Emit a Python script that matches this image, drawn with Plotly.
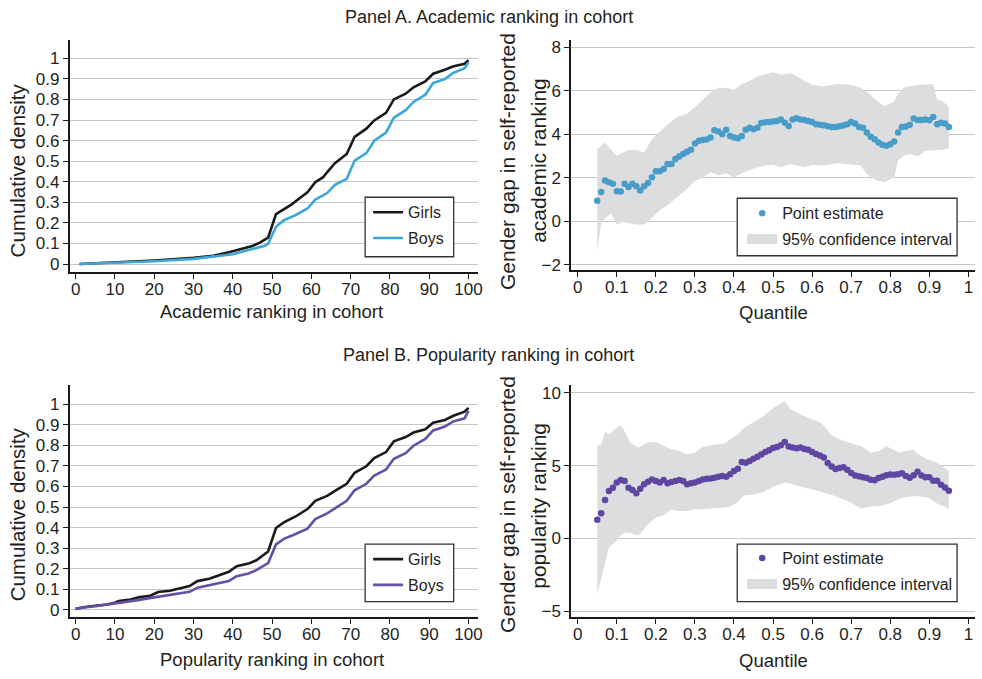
import plotly.graph_objects as go

# ---------------- Data ----------------
# Cumulative densities, academic ranking in cohort
acad_girls_x = [1, 10, 20, 30, 35, 39, 42, 45, 47, 49, 51, 53, 55, 57, 59, 61, 63, 64, 66, 69,
                71, 74, 76, 79, 81, 84, 86, 89, 91, 94, 96, 99, 100]
acad_girls_y = [0.0, 0.008, 0.017, 0.03, 0.04, 0.057, 0.072, 0.088, 0.105, 0.128, 0.243, 0.266,
                0.29, 0.32, 0.349, 0.398, 0.422, 0.446, 0.49, 0.535, 0.618, 0.658, 0.698, 0.735,
                0.80, 0.828, 0.859, 0.888, 0.925, 0.944, 0.96, 0.973, 0.99]
acad_boys_x = [1, 10, 20, 30, 40, 44, 48, 49, 51, 53, 56, 59, 61, 64, 66, 69, 71, 74, 76, 79,
               81, 84, 86, 89, 91, 94, 96, 99, 100]
acad_boys_y = [0.0, 0.006, 0.014, 0.025, 0.048, 0.068, 0.088, 0.098, 0.181, 0.213, 0.238, 0.27,
               0.313, 0.345, 0.385, 0.414, 0.502, 0.539, 0.599, 0.639, 0.711, 0.748, 0.788, 0.823,
               0.88, 0.899, 0.928, 0.952, 0.98]

# Cumulative densities, popularity ranking in cohort
pop_girls_x = [0, 2, 5, 8, 10, 11, 14, 16, 19, 21, 24, 26, 29, 31, 34, 36, 39, 41, 44, 46, 47,
               49, 51, 53, 56, 58, 59, 61, 64, 66, 69, 71, 74, 76, 79, 81, 84, 86, 89, 91, 94,
               96, 99, 100]
pop_girls_y = [0.005, 0.013, 0.02, 0.026, 0.035, 0.043, 0.051, 0.061, 0.069, 0.087, 0.093, 0.103,
               0.116, 0.14, 0.151, 0.165, 0.185, 0.212, 0.225, 0.241, 0.254, 0.284, 0.398, 0.425,
               0.454, 0.478, 0.49, 0.53, 0.554, 0.578, 0.613, 0.666, 0.698, 0.738, 0.767, 0.819,
               0.84, 0.862, 0.878, 0.91, 0.923, 0.942, 0.963, 0.982]
pop_boys_x = [0, 2, 5, 10, 15, 20, 25, 29, 31, 34, 39, 41, 44, 46, 49, 51, 53, 56, 59, 61, 64,
              66, 69, 71, 74, 76, 79, 81, 84, 86, 89, 91, 94, 96, 99, 100]
pop_boys_y = [0.005, 0.012, 0.018, 0.03, 0.045, 0.061, 0.075, 0.088, 0.108, 0.12, 0.141, 0.164,
              0.177, 0.193, 0.228, 0.318, 0.345, 0.369, 0.395, 0.441, 0.469, 0.493, 0.53, 0.581,
              0.613, 0.653, 0.682, 0.734, 0.762, 0.798, 0.831, 0.872, 0.891, 0.915, 0.931, 0.968]

# Quantile regression estimates, quantiles 0.05 ... 0.95
quantiles = [round(0.05 + 0.01 * i, 2) for i in range(91)]
acad_gap = [0.94, 1.34, 1.87, 1.79, 1.72, 1.38, 1.37, 1.72, 1.57, 1.72,
            1.61, 1.41, 1.61, 1.75, 2.02, 2.30, 2.30, 2.40, 2.63, 2.63,
            2.86, 2.97, 3.09, 3.19, 3.29, 3.57, 3.70, 3.73, 3.76, 3.85,
            4.18, 4.12, 4.00, 4.21, 3.92, 3.85, 3.82, 3.92, 4.20, 4.30,
            4.23, 4.30, 4.52, 4.55, 4.56, 4.58, 4.61, 4.68, 4.53, 4.38,
            4.68, 4.73, 4.68, 4.65, 4.61, 4.56, 4.46, 4.43, 4.41, 4.37,
            4.33, 4.33, 4.37, 4.40, 4.46, 4.56, 4.49, 4.33, 4.30, 4.08,
            3.88, 3.77, 3.62, 3.51, 3.47, 3.54, 3.67, 4.08, 4.33, 4.35,
            4.43, 4.72, 4.65, 4.65, 4.68, 4.64, 4.79, 4.46, 4.53, 4.49,
            4.33]
pop_gap = [1.28, 1.74, 2.65, 3.26, 3.49, 3.84, 4.02, 3.95, 3.49, 3.33,
           3.11, 3.42, 3.72, 3.90, 4.06, 3.95, 3.84, 4.02, 3.79, 3.88,
           3.95, 4.02, 3.95, 3.72, 3.79, 3.84, 3.95, 4.06, 4.11, 4.13,
           4.18, 4.25, 4.29, 4.25, 4.41, 4.63, 4.79, 5.25, 5.21, 5.32,
           5.48, 5.62, 5.78, 5.94, 6.07, 6.21, 6.28, 6.40, 6.63, 6.33,
           6.26, 6.20, 6.26, 6.15, 6.10, 5.94, 5.80, 5.71, 5.57, 5.18,
           4.95, 4.77, 4.84, 4.89, 4.72, 4.50, 4.33, 4.27, 4.20, 4.15,
           4.04, 4.00, 4.15, 4.25, 4.35, 4.40, 4.38, 4.42, 4.48, 4.30,
           4.18, 4.35, 4.58, 4.33, 4.20, 4.20, 3.97, 3.97, 3.69, 3.51,
           3.28]

# 95% confidence bands
acad_band_q = [0.05, 0.06, 0.07, 0.085, 0.10, 0.115, 0.13, 0.15, 0.17, 0.19, 0.21, 0.23, 0.255,
               0.28, 0.30, 0.32, 0.34, 0.36, 0.38, 0.40, 0.42, 0.44, 0.46, 0.48, 0.50, 0.52,
               0.545, 0.56, 0.58, 0.60, 0.63, 0.665, 0.70, 0.725, 0.74, 0.765, 0.785, 0.81,
               0.82, 0.835, 0.85, 0.87, 0.89, 0.91, 0.92, 0.935, 0.95]
acad_upper = [3.32, 3.47, 3.62, 3.30, 3.01, 3.15, 3.27, 3.27, 3.16, 3.77, 4.10, 4.45, 4.79,
              4.94, 5.25, 5.60, 5.92, 6.15, 6.13, 6.05, 6.30, 6.45, 6.66, 6.75, 6.85, 6.74,
              6.81, 6.68, 6.45, 6.28, 6.21, 6.31, 6.28, 6.13, 5.95, 5.55, 5.29, 5.52, 5.85,
              6.15, 6.21, 6.26, 6.29, 6.31, 5.60, 5.52, 5.22]
acad_lower = [-1.40, -0.11, 0.12, 0.35, -0.15, -0.03, -0.10, -0.15, -0.15, 0.15, 0.50, 0.73,
              1.11, 1.49, 1.85, 2.00, 2.25, 2.10, 2.20, 2.02, 2.20, 2.35, 2.45, 2.56, 2.60,
              2.48, 2.63, 2.55, 2.48, 2.60, 2.56, 2.66, 2.60, 2.56, 2.17, 1.87, 1.79, 2.02,
              2.78, 3.01, 3.09, 2.97, 3.24, 3.24, 3.25, 3.27, 3.36]

pop_band_q = [0.05, 0.06, 0.07, 0.08, 0.095, 0.11, 0.12, 0.135, 0.155, 0.18, 0.20, 0.22, 0.24,
              0.255, 0.28, 0.30, 0.32, 0.35, 0.375, 0.39, 0.41, 0.425, 0.45, 0.475, 0.50, 0.53,
              0.545, 0.58, 0.60, 0.625, 0.65, 0.68, 0.70, 0.725, 0.75, 0.775, 0.79, 0.80,
              0.825, 0.835, 0.86, 0.87, 0.895, 0.90, 0.92, 0.93, 0.95]
pop_upper = [6.35, 6.46, 7.31, 7.15, 7.49, 7.76, 7.37, 6.60, 6.23, 6.62, 6.62, 6.35, 6.12,
             6.07, 5.78, 5.89, 6.30, 6.46, 6.53, 6.80, 7.15, 7.60, 7.99, 8.40, 8.97, 9.43,
             8.86, 8.40, 8.20, 7.90, 7.10, 6.70, 6.55, 6.35, 5.89, 6.05, 6.35, 6.20, 5.89,
             6.00, 6.12, 5.80, 5.43, 5.40, 5.21, 5.00, 4.63]
pop_lower = [-3.81, -2.70, -1.70, -0.62, -0.30, 0.20, 0.41, 0.37, 0.18, 0.98, 1.44, 1.60,
             2.01, 1.89, 1.89, 2.01, 2.01, 2.05, 2.12, 2.19, 2.50, 2.95, 3.04, 3.20, 3.56,
             3.84, 3.75, 3.50, 3.38, 3.20, 3.00, 2.70, 2.47, 2.05, 2.19, 2.24, 2.35, 2.42,
             2.75, 2.81, 2.92, 2.90, 2.81, 2.75, 2.40, 2.28, 2.05]

# ---------------- Styling ----------------
W, H = 982, 679
FONT = "Liberation Sans, Arial, Helvetica, sans-serif"
TXT = "#231f20"
GIRLS = "#1a1a1a"
BOYS_A = "#3ba7d6"
BOYS_P = "#6650a4"
DOTS_A = "#4a9cc8"
DOTS_P = "#5f46a2"
BAND = "#dcdddf"
GRID = "#c6c6c6"


def px_x(p):
    return p / W


def px_y(p):
    return (H - p) / H


fig = go.Figure()

# Left panels: cumulative density lines
for ax, leg, gx, gy, bx, by, bcol in [
    ("", "legend", acad_girls_x, acad_girls_y, acad_boys_x, acad_boys_y, BOYS_A),
    ("3", "legend3", pop_girls_x, pop_girls_y, pop_boys_x, pop_boys_y, BOYS_P),
]:
    fig.add_trace(go.Scatter(x=gx, y=gy, mode="lines", name="Girls",
                             line=dict(color=GIRLS, width=2.6), legendgroup="g" + leg,
                             xaxis="x" + ax, yaxis="y" + ax, legend=leg))
    fig.add_trace(go.Scatter(x=bx, y=by, mode="lines", name="Boys",
                             line=dict(color=bcol, width=2.6), legendgroup="b" + leg,
                             xaxis="x" + ax, yaxis="y" + ax, legend=leg))

# Right panels: confidence band and point estimates
for ax, leg, bq, up, lo, est, col in [
    ("2", "legend2", acad_band_q, acad_upper, acad_lower, acad_gap, DOTS_A),
    ("4", "legend4", pop_band_q, pop_upper, pop_lower, pop_gap, DOTS_P),
]:
    fig.add_trace(go.Scatter(x=bq + bq[::-1], y=up + lo[::-1], mode="lines",
                             fill="toself", fillcolor=BAND, line=dict(width=0, color=BAND),
                             showlegend=False, hoverinfo="skip",
                             xaxis="x" + ax, yaxis="y" + ax))
    fig.add_trace(go.Scatter(x=quantiles, y=est, mode="markers", name="Point estimate",
                             marker=dict(color=col, size=6.5, line=dict(width=0)),
                             legendrank=1, legendgroup="p" + leg,
                             xaxis="x" + ax, yaxis="y" + ax, legend=leg))
    # legend key for the shaded band (a wide swatch)
    fig.add_trace(go.Scatter(x=[None], y=[None], mode="lines",
                             line=dict(width=16, color=BAND),
                             name="95% confidence interval", legendrank=2,
                             legendgroup="c" + leg,
                             xaxis="x" + ax, yaxis="y" + ax, legend=leg))

axis_common = dict(
    showline=True, linecolor="#1a1a1a", linewidth=1.6, mirror=False,
    ticks="outside", ticklen=5, tickwidth=1.3, tickcolor="#1a1a1a",
    tickfont=dict(family=FONT, size=17, color=TXT), zeroline=False,
)

# Pixel frames of the four plotting areas
left_x = (70, 480)
right_x = (574, 980)
top_y = (38.3, 272.7)
bot_y = (386.7, 620.5)

dec_labels = ["0"] + [f"{i / 10:.1f}" for i in range(1, 10)] + ["1"]
dec_vals = [i / 10 for i in range(11)]

lay = dict(
    width=W, height=H, margin=dict(l=0, r=0, t=0, b=0),
    paper_bgcolor="white", plot_bgcolor="white",
    font=dict(family=FONT, color=TXT),
)

lay["xaxis"] = dict(axis_common, domain=[px_x(left_x[0]), px_x(left_x[1])],
                    range=[-1.52, 102.3], tickvals=list(range(0, 101, 10)),
                    ticklabelstandoff=-4, showgrid=False, anchor="y")
lay["yaxis"] = dict(axis_common, domain=[px_y(top_y[1]), px_y(top_y[0])],
                    range=[-0.04, 1.089], tickvals=dec_vals, ticktext=dec_labels,
                    showgrid=True, gridcolor=GRID, gridwidth=1.4, anchor="x")
lay["xaxis2"] = dict(axis_common, domain=[px_x(right_x[0]), px_x(right_x[1])],
                     range=[-0.017, 1.017], tickvals=dec_vals, ticktext=dec_labels,
                     ticklabelstandoff=-4, showgrid=False, anchor="y2")
lay["yaxis2"] = dict(axis_common, domain=[px_y(top_y[1]) + 0.003, px_y(top_y[0])],
                     range=[-2.26, 8.337], tickvals=[-2, 0, 2, 4, 6, 8],
                     showgrid=True, gridcolor=GRID, gridwidth=1.4, anchor="x2")
lay["xaxis3"] = dict(axis_common, domain=[px_x(left_x[0]), px_x(left_x[1])],
                     range=[-1.52, 102.3], tickvals=list(range(0, 101, 10)),
                     ticklabelstandoff=-4, showgrid=False, anchor="y3")
lay["yaxis3"] = dict(axis_common, domain=[px_y(bot_y[1]), px_y(bot_y[0])],
                     range=[-0.0345, 1.0915], tickvals=dec_vals, ticktext=dec_labels,
                     showgrid=True, gridcolor=GRID, gridwidth=1.4, anchor="x3")
lay["xaxis4"] = dict(axis_common, domain=[px_x(right_x[0]), px_x(right_x[1])],
                     range=[-0.017, 1.017], tickvals=dec_vals, ticktext=dec_labels,
                     ticklabelstandoff=-4, showgrid=False, anchor="y4")
lay["yaxis4"] = dict(axis_common, domain=[px_y(bot_y[1]), px_y(bot_y[0])],
                     range=[-5.4, 10.53], tickvals=[-5, 0, 5, 10],
                     showgrid=True, gridcolor=GRID, gridwidth=1.4, anchor="x4")

# Legends: entries from plotly, framed by a white box drawn as a shape
legend_common = dict(
    bgcolor="rgba(0,0,0,0)", borderwidth=0,
    font=dict(family=FONT, size=16, color=TXT),
    xanchor="left", yanchor="top", traceorder="grouped", tracegroupgap=2,
    itemclick=False, itemdoubleclick=False,
)
lay["legend"] = dict(legend_common, x=px_x(370), y=px_y(195))
lay["legend2"] = dict(legend_common, x=px_x(746), y=px_y(196))
lay["legend3"] = dict(legend_common, x=px_x(370), y=px_y(545))
lay["legend4"] = dict(legend_common, x=px_x(746), y=px_y(544))

boxes = [(367, 197, 456, 257), (741, 198, 962, 256), (367, 547, 456, 605), (741, 547, 962, 605)]
lay["shapes"] = [
    dict(type="rect", xref="paper", yref="paper", layer="above",
         x0=px_x(x0), x1=px_x(x1), y0=px_y(y1), y1=px_y(y0),
         fillcolor="white", line=dict(color="#333333", width=1.3))
    for x0, y0, x1, y1 in boxes
]

fig.update_layout(**lay)


def label(text, x, y, size, angle=0):
    fig.add_annotation(text=text, x=px_x(x), y=px_y(y), xref="paper", yref="paper",
                       showarrow=False, textangle=angle, xanchor="center", yanchor="middle",
                       font=dict(family=FONT, size=size, color=TXT))


# Panel headings
label("Panel A. Academic ranking in cohort", 491, 15, 18)
label("Panel B. Popularity ranking in cohort", 491, 356, 18)

# Axis titles
label("Cumulative density", 18, 170, 20.5, -90)
label("Cumulative density", 18, 517, 20.5, -90)
label("Academic ranking in cohort", 273, 312, 18.5)
label("Popularity ranking in cohort", 273, 663, 18.5)
label("Quantile", 777, 313, 18.5)
label("Quantile", 777, 664, 18.5)
label("Gender gap in self-reported", 510, 161, 21, -90)
label("academic ranking", 541, 160, 21, -90)
label("Gender gap in self-reported", 510, 507, 21, -90)
label("popularity ranking", 541, 508, 21, -90)

fig.write_html("out.html")
